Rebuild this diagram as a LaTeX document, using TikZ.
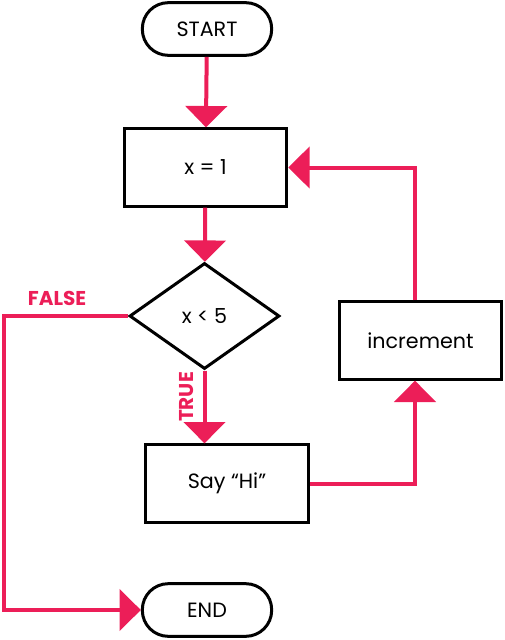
\documentclass[tikz,border=0pt]{standalone}
\usepackage{fontspec}
\setmainfont{Poppins}
\usetikzlibrary{shapes.geometric,arrows.meta,positioning}
\definecolor{hotpink}{RGB}{236,30,88}

\begin{document}
\begin{tikzpicture}
[x=0.75pt,y=-0.75pt,
terminal/.style={
	draw,
	line width=2.25pt,
	rounded corners=19.5pt,
	minimum width=97pt,
	minimum height=39.5pt,
	font=\fontsize{15.5}{18}\selectfont,
    },
process/.style={
	draw,
	line width=2.25pt,
	minimum width=122pt,
	minimum height=58pt,
	font=\fontsize{15.5}{18}\selectfont,
    },
decision/.style={
	diamond,
	draw,
	line width=2.25pt,
	inner sep=0pt,
	minimum width=112.5pt,
	minimum height=79.5pt,
	font=\fontsize{15.5}{18}\selectfont,
    },
flow/.style={
	draw=hotpink,
	line width=3pt,
	-{Triangle[width=31pt,length=16pt]},
    },
answer/.style={
	text=hotpink,
	font=\fontsize{15}{18}\selectfont\bfseries,
    },]
\useasboundingbox (0,0) rectangle (505,640);

% draw the boxes
\node[terminal] (start) at (207,29) {START};
\node[process] (init) at (205.5,167.5) {x = 1};
\node[decision] (test) at (204.5,316) {x < 5};
\node[process] (say) at (227,483.5) {Say “Hi”};
\node[process] (incr) at (420.5,340.5) {increment};
\node[terminal] (stop) at (207,610) {END};

\coordinate (falsebend) at (4,316);
\coordinate (loopx) at (415,0);

% draw lines
\draw[flow] (start) -- (init);
\draw[flow] (init) -- (test);
\draw[flow] (test.south) -- (test.south |- say.north);
\draw[flow] (test.west) -- (falsebend) |- (stop.west);
\draw[flow] (say.east) -| (loopx |- incr.south);
\draw[flow] (loopx |- incr.north) |- (init.east);

% labels
\node[answer] (nofalse) at (57,298) {FALSE};
\node[answer,rotate=90] (yestrue) at (187,397) {TRUE};
\end{tikzpicture}
\end{document}
